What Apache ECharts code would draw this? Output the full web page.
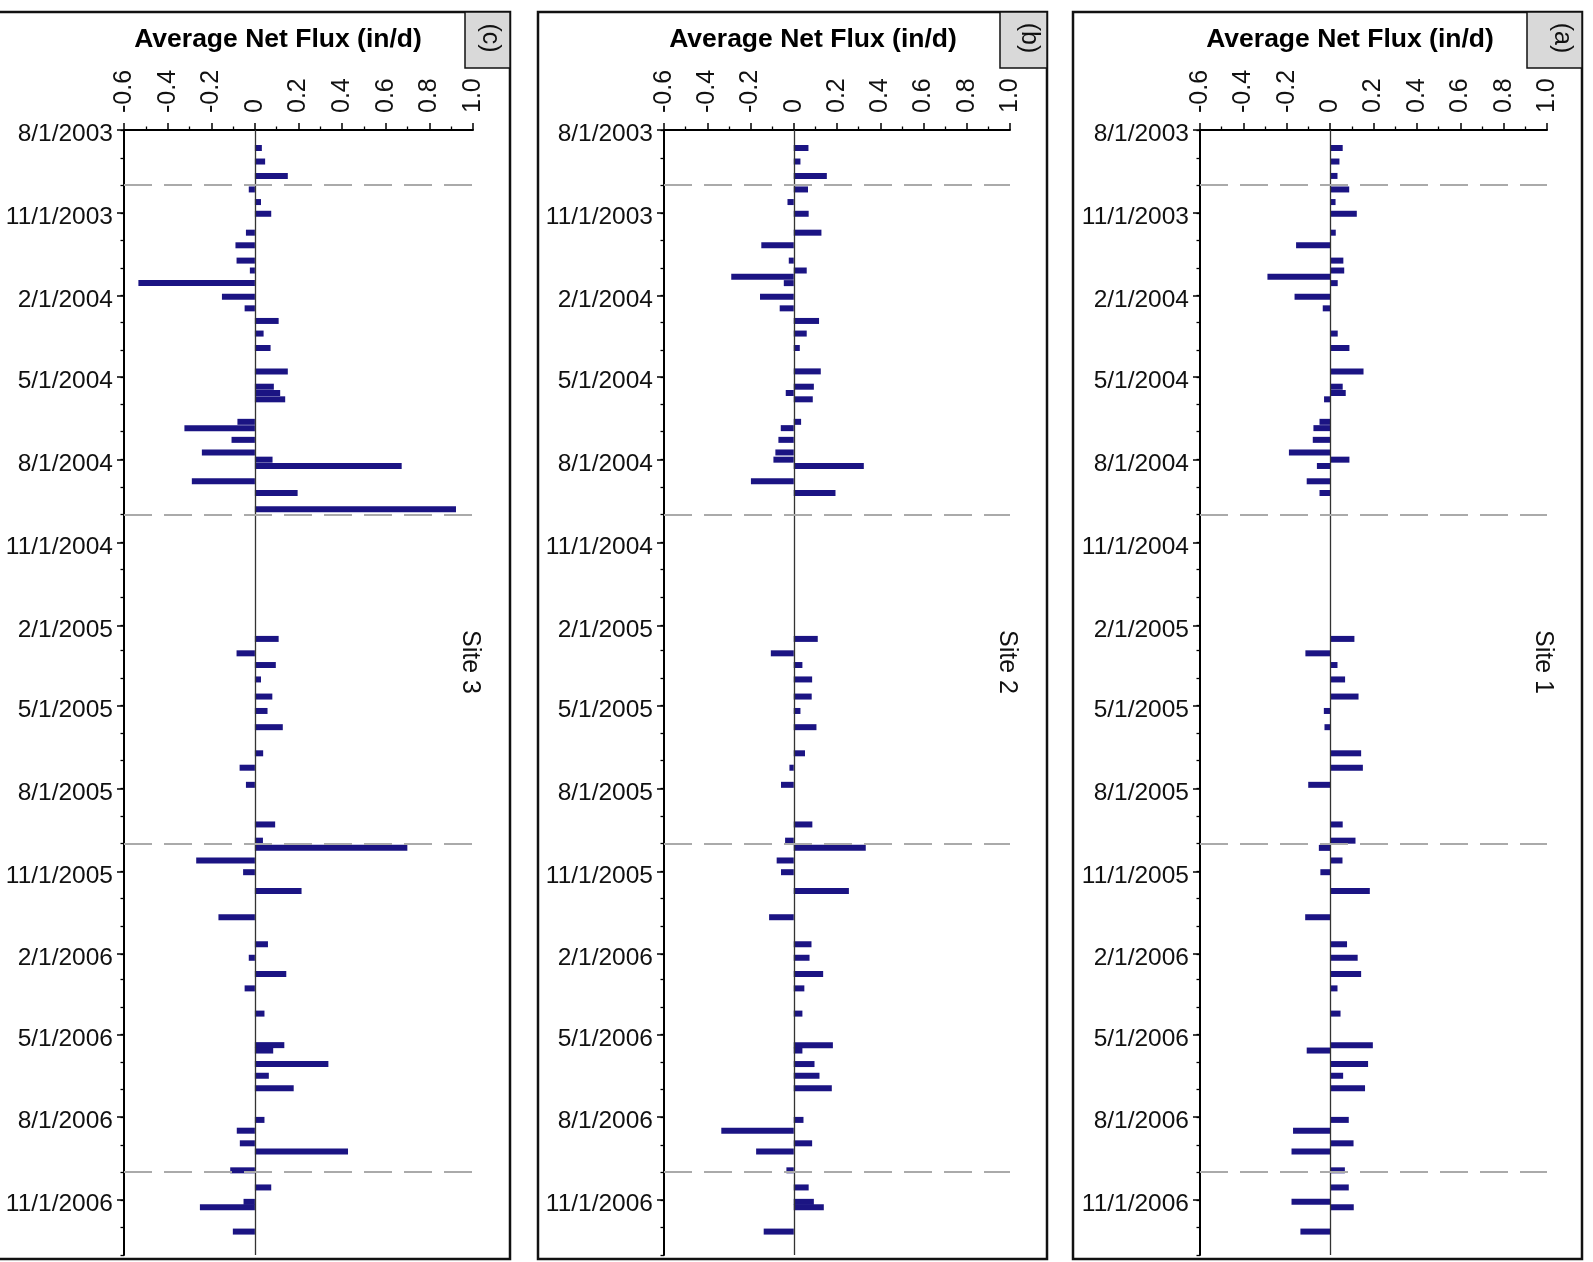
<!DOCTYPE html>
<html>
<head>
<meta charset="utf-8">
<title>Average Net Flux</title>
<script src="https://cdn.jsdelivr.net/npm/echarts@6/dist/echarts.min.js"></script>
<style>
  html, body { margin: 0; padding: 0; background: #fff; }
  #chart { width: 1593px; height: 1262px; }
</style>
</head>
<body>
<div id="chart"></div>
<script>
// measurement dates (shared by the three sites)
const dates = [
  '2003-08-21', '2003-09-05', '2003-09-21', '2003-10-06', '2003-10-20', '2003-11-02',
  '2003-11-23', '2003-12-07', '2003-12-24', '2004-01-04', '2004-01-11', '2004-01-18',
  '2004-02-02', '2004-02-15', '2004-02-29', '2004-03-14', '2004-03-30', '2004-04-25',
  '2004-05-12', '2004-05-19', '2004-05-26', '2004-06-20', '2004-06-27', '2004-07-10',
  '2004-07-24', '2004-08-01', '2004-08-08', '2004-08-25', '2004-09-07', '2004-09-25',
  '2005-02-16', '2005-03-04', '2005-03-17', '2005-04-02', '2005-04-21', '2005-05-07',
  '2005-05-25', '2005-06-23', '2005-07-09', '2005-07-28', '2005-09-10', '2005-09-28',
  '2005-10-06', '2005-10-20', '2005-11-02', '2005-11-23', '2005-12-22',
  '2006-01-21', '2006-02-05', '2006-02-23', '2006-03-11', '2006-04-08', '2006-05-13',
  '2006-05-19', '2006-06-03', '2006-06-16', '2006-06-30', '2006-08-04', '2006-08-16',
  '2006-08-30', '2006-09-08', '2006-09-29', '2006-10-18', '2006-11-03', '2006-11-09',
  '2006-12-06'
];

// average net flux, in/d (null = no bar)
const site3 = [
  0.032, 0.047, 0.151, -0.028, 0.028, 0.075,
  -0.041, -0.089, -0.084, -0.023, null, -0.534,
  -0.151, -0.047, 0.109, 0.040, 0.072, 0.151,
  0.087, 0.116, 0.139, -0.080, -0.323, -0.107,
  -0.243, 0.081, 0.673, -0.289, 0.196, 0.922,
  0.109, -0.084, 0.096, 0.028, 0.080, 0.058,
  0.128, 0.038, -0.070, -0.041, 0.093, 0.037,
  0.699, -0.269, -0.054, 0.214, -0.167,
  0.060, -0.028, 0.144, -0.047, 0.044, 0.135,
  0.084, 0.337, 0.064, 0.178, 0.044, -0.083,
  -0.069, 0.427, -0.113, 0.075, -0.052, -0.252,
  -0.101
];
const site2 = [
  0.068, 0.031, 0.153, 0.066, -0.029, 0.069,
  0.128, -0.150, -0.023, 0.060, -0.289, -0.046,
  -0.156, -0.065, 0.117, 0.060, 0.028, 0.125,
  0.093, -0.037, 0.088, 0.034, -0.060, -0.071,
  -0.085, -0.094, 0.324, -0.198, 0.193, null,
  0.111, -0.106, 0.040, 0.085, 0.083, 0.031,
  0.105, 0.052, -0.020, -0.059, 0.086, -0.040,
  0.333, -0.079, -0.059, 0.255, -0.114,
  0.082, 0.073, 0.136, 0.049, 0.040, 0.181,
  0.040, 0.096, 0.119, 0.176, 0.045, -0.335,
  0.085, -0.174, -0.034, 0.069, 0.093, 0.139,
  -0.139
];
const site1 = [
  0.058, 0.043, 0.034, 0.088, 0.025, 0.123,
  0.026, -0.157, 0.061, 0.065, -0.289, 0.035,
  -0.164, -0.034, null, 0.035, 0.089, 0.154,
  0.058, 0.072, -0.028, -0.049, -0.077, -0.080,
  -0.190, 0.089, -0.061, -0.108, -0.049, null,
  0.112, -0.114, 0.034, 0.069, 0.131, -0.029,
  -0.026, 0.143, 0.151, -0.101, 0.058, 0.117,
  -0.052, 0.057, -0.045, 0.183, -0.115,
  0.078, 0.127, 0.143, 0.034, 0.048, 0.197,
  -0.108, 0.175, 0.060, 0.161, 0.086, -0.171,
  0.108, -0.178, 0.068, 0.086, -0.178, 0.109,
  -0.137
];

// start of each water year (dashed lines)
const waterYears = ['2003-10-01', '2004-10-01', '2005-10-01', '2006-10-01'];

// labelled date ticks
const quarterTicks = [
  '2003-08-01', '2003-11-01', '2004-02-01', '2004-05-01', '2004-08-01', '2004-11-01',
  '2005-02-01', '2005-05-01', '2005-08-01', '2005-11-01', '2006-02-01', '2006-05-01',
  '2006-08-01', '2006-11-01'
];
const axisStart = [2003, 7, 1];
const axisEnd = [2007, 0, 1];

function pad(n) { return n < 10 ? '0' + n : '' + n; }
function iso(d) { return d.getFullYear() + '-' + pad(d.getMonth() + 1) + '-' + pad(d.getDate()); }
function fmtDate(s) {
  const p = s.split('-').map(Number);
  return p[1] + '/' + p[2] + '/' + p[0];
}

// one category per day along the date axis
const days = [];
for (let d = new Date(axisStart[0], axisStart[1], axisStart[2]);
     d <= new Date(axisEnd[0], axisEnd[1], axisEnd[2]);
     d = new Date(d.getFullYear(), d.getMonth(), d.getDate() + 1)) {
  days.push(iso(d));
}
const quarterSet = new Set(quarterTicks);
const isQuarter = (i, v) => quarterSet.has(v);
const isMonth = (i, v) => v.slice(8) === '01';

const font = "'Liberation Sans', Arial, Helvetica, sans-serif";
const barColor = '#1b1483';

const panels = [
  { site: 'Site 3', tag: '(c)', values: site3, left: 124, width: 349,
    frame: [-3, 513], tagBox: [465, 45], tagX: 490, titleX: 278, siteX: 470 },
  { site: 'Site 2', tag: '(b)', values: site2, left: 664, width: 346,
    frame: [538, 509], tagBox: [1000, 47], tagX: 1029, titleX: 813, siteX: 1007 },
  { site: 'Site 1', tag: '(a)', values: site1, left: 1200, width: 347,
    frame: [1073, 509], tagBox: [1527, 55], tagX: 1562, titleX: 1350, siteX: 1543 }
];

const graphics = [];
panels.forEach(p => {
  graphics.push({
    type: 'rect', z: 10,
    shape: { x: p.frame[0], y: 12, width: p.frame[1], height: 1247 },
    style: { fill: 'none', stroke: '#111', lineWidth: 2.5 }
  });
  graphics.push({
    type: 'rect', z: 11,
    shape: { x: p.tagBox[0], y: 12, width: p.tagBox[1], height: 56 },
    style: { fill: '#d9d9d9', stroke: '#111', lineWidth: 1.5 }
  });
  graphics.push({
    type: 'text', z: 12, x: p.tagX, y: 38, rotation: -Math.PI / 2,
    style: { text: p.tag, fontSize: 25, fontFamily: font, fill: '#111', align: 'center', verticalAlign: 'middle' }
  });
  graphics.push({
    type: 'text', z: 12, x: p.titleX, y: 40,
    style: { text: 'Average Net Flux (in/d)', fontSize: 26.5, fontWeight: 'bold', fontFamily: font,
             fill: '#000', align: 'center', verticalAlign: 'middle' }
  });
  graphics.push({
    type: 'text', z: 12, x: p.siteX, y: 662, rotation: -Math.PI / 2,
    style: { text: p.site, fontSize: 25, fontFamily: font, fill: '#111', align: 'center', verticalAlign: 'middle' }
  });
});

const yAxes = [];
panels.forEach((p, i) => {
  yAxes.push({
    type: 'category', gridIndex: i, inverse: true, position: 'left',
    data: days, boundaryGap: false,
    axisLine: { show: true, onZero: false, lineStyle: { color: '#000', width: 2 } },
    axisTick: { show: true, length: 7, interval: isQuarter, lineStyle: { color: '#000', width: 1.5 } },
    axisLabel: { interval: isQuarter, formatter: fmtDate, margin: 11,
                 verticalAlign: 'top', lineHeight: 9,
                 fontSize: 24.5, fontFamily: font, color: '#111' },
    splitLine: { show: false }
  });
  yAxes.push({
    type: 'category', gridIndex: i, inverse: true, position: 'left',
    data: days, boundaryGap: false,
    axisLine: { show: false, onZero: false },
    axisTick: { show: true, length: 3.5, interval: isMonth, lineStyle: { color: '#000', width: 1.3 } },
    axisLabel: { show: false },
    splitLine: { show: false }
  });
});

const option = {
  animation: false,
  backgroundColor: '#fff',
  grid: panels.map(p => ({ left: p.left, top: 130, width: p.width, height: 1125,
                            containLabel: false, outerBoundsMode: 'none' })),
  xAxis: panels.map((p, i) => ({
    type: 'value', gridIndex: i, position: 'top',
    min: -0.6, max: 1.0, interval: 0.2,
    axisLine: { show: true, onZero: false, lineStyle: { color: '#000', width: 2 } },
    axisTick: { show: true, length: 7, lineStyle: { color: '#000', width: 1.5 } },
    minorTick: { show: true, splitNumber: 2, length: 3.5, lineStyle: { color: '#000', width: 1.3 } },
    splitLine: { show: false },
    minorSplitLine: { show: false },
    axisLabel: {
      rotate: -90, margin: 17, fontSize: 25, fontFamily: font, color: '#111',
      formatter: v => (Math.abs(v) < 1e-9 ? '0' : v.toFixed(1))
    }
  })),
  yAxis: yAxes,
  graphic: graphics,
  series: panels.map((p, i) => ({
    type: 'bar', name: p.site, xAxisIndex: i, yAxisIndex: i * 2,
    barWidth: 6,
    itemStyle: { color: barColor },
    data: dates.map((d, k) => [p.values[k], d]).filter(r => r[0] != null),
    markLine: {
      silent: true, symbol: 'none', animation: false,
      label: { show: false },
      data: [{ xAxis: 0, lineStyle: { color: '#333', width: 1.3, type: 'solid' } }]
        .concat(waterYears.map(w => ({ yAxis: w, lineStyle: { color: '#aaa', width: 2.2, type: [28, 12] } })))
    }
  }))
};

const chart = echarts.init(document.getElementById('chart'));
chart.setOption(option);
window.addEventListener('resize', chart.resize);
</script>
</body>
</html>
